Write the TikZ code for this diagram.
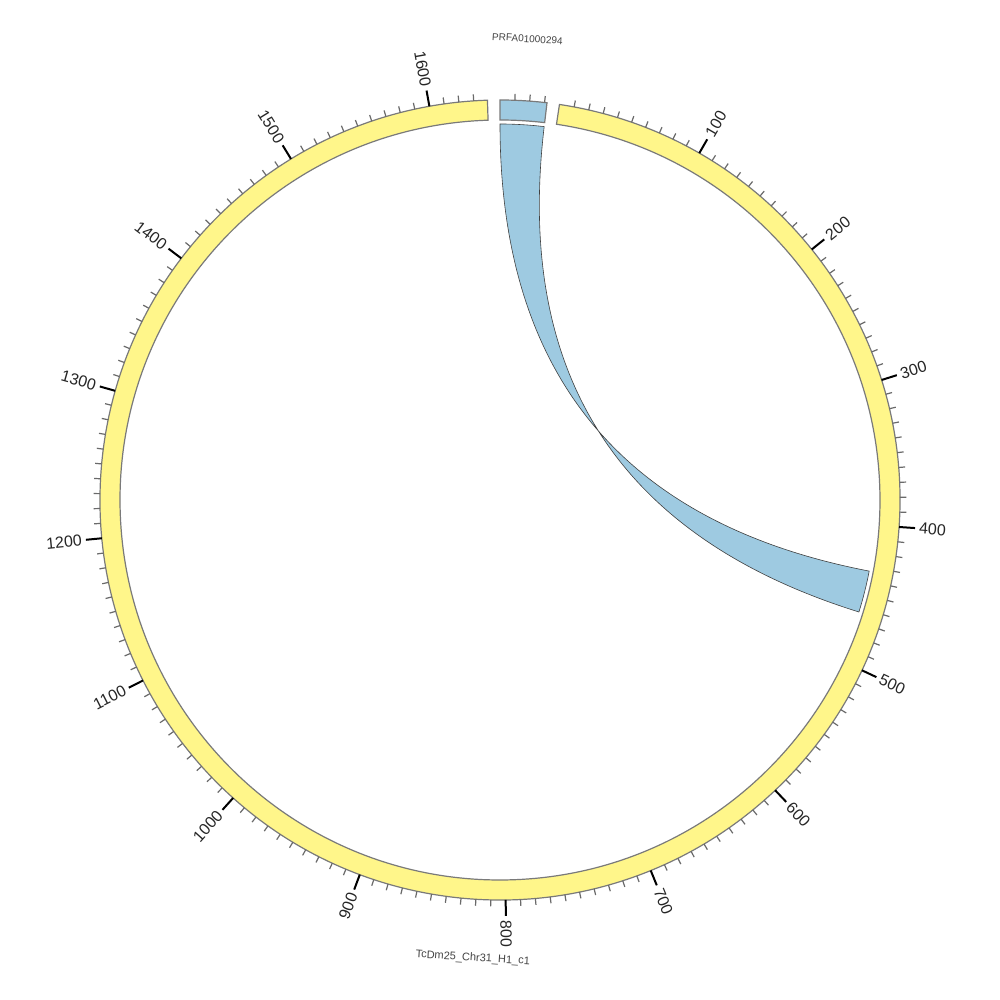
\documentclass[tikz,border=0pt]{standalone}
\usepackage{fontspec}
\setmainfont{Liberation Sans}
\definecolor{segyellow}{HTML}{FFF68A}
\definecolor{segblue}{HTML}{9ECAE1}
\definecolor{edgegray}{HTML}{7A7A7A}
\definecolor{tickgray}{HTML}{6A6A6A}
\definecolor{namegray}{HTML}{444444}
\tikzset{
  segment/.style={draw=edgegray, line width=1.2pt, line join=miter},
  ribbon/.style={draw=black!75, line width=0.6pt, fill=segblue},
  minortick/.style={draw=tickgray, line width=1.2pt},
  majortick/.style={draw=black, line width=2pt},
  ticklabel/.style={inner sep=0pt, font=\fontsize{16}{18}\selectfont, text=black!85},
  chromname/.style={inner sep=0pt, font=\fontsize{10}{12}\selectfont, text=namegray}
}
\begin{document}
\begin{tikzpicture}[x=1pt,y=1pt]
\useasboundingbox[fill=white] (-500,-500) rectangle (500,500);
% chromosome segments (angles: math = 90 - clockwise-from-top)
\path[segment, fill=segblue] (90:400pt) arc[start angle=90, end angle=83.25, radius=400pt]
  -- (83.25:380pt) arc[start angle=83.25, end angle=90, radius=380pt] -- cycle;
\path[segment, fill=segyellow] (81.45:400pt) arc[start angle=81.45, end angle=-268.2, radius=400pt]
  -- (-268.2:380pt) arc[start angle=-268.2, end angle=81.45, radius=380pt] -- cycle;
% link ribbon
\coordinate (a1) at (90:376pt);
\coordinate (a2) at (83.25:376pt);
\coordinate (b1) at (-10.9:376pt);
\coordinate (b2) at (-17.33:376pt);
\path[ribbon] (a1) arc[start angle=90, end angle=83.25, radius=376pt]
  .. controls (83.25:125.33pt) and (-17.33:125.33pt) .. (b2)
  arc[start angle=-17.33, end angle=-10.9, radius=376pt]
  .. controls (-10.9:125.33pt) and (90:125.33pt) .. (a1) -- cycle;
% ticks on small segment
\foreach \i in {1,2,3}{
  \pgfmathsetmacro\ph{90-\i*2.133}
  \draw[minortick] (\ph:400pt) -- (\ph:406.5pt);
}
% ticks on big segment
\foreach \i in {1,...,163}{
  \pgfmathsetmacro\ph{90-(8.55+\i*2.133)}
  \pgfmathtruncatemacro\m{mod(\i,10)}
  \ifnum\m=0
    \draw[majortick] (\ph:400pt) -- (\ph:416pt);
    \pgfmathtruncatemacro\v{\i*10}
    \pgfmathsetmacro\c{cos(\ph)}
    \ifdim\c pt<0pt
      \node[ticklabel, anchor=east, rotate=\ph+180] (lab\v) at (\ph:420pt) {\v};
    \else
      \node[ticklabel, anchor=west, rotate=\ph] (lab\v) at (\ph:420pt) {\v};
    \fi
  \else
    \draw[minortick] (\ph:400pt) -- (\ph:406.5pt);
  \fi
}
% chromosome names
\node[chromname, rotate=-3.4] (nameA) at (86.6:462pt) {PRFA01000294};
\node[chromname, rotate=-3.4, font=\fontsize{11}{13}\selectfont] (nameB) at (-93.4:459pt) {TcDm25\_Chr31\_H1\_c1};
\end{tikzpicture}
\end{document}
